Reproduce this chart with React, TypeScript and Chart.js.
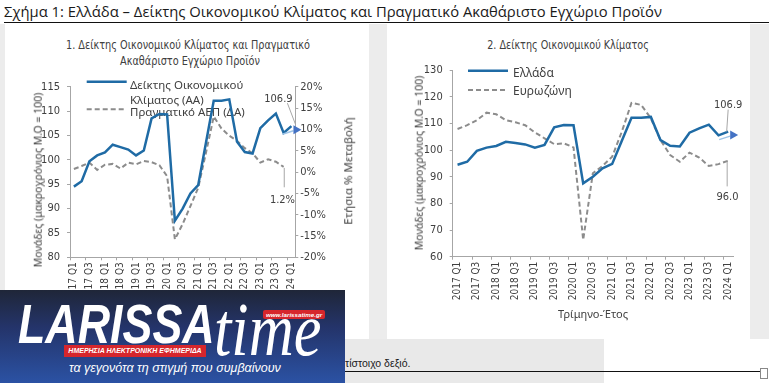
import React, { useEffect, useRef } from "react";
import { Chart, registerables } from "chart.js";

Chart.register(...registerables);

// ---------- DATA ----------
const quarters = [
  "2017 Q1", "2017 Q2", "2017 Q3", "2017 Q4",
  "2018 Q1", "2018 Q2", "2018 Q3", "2018 Q4",
  "2019 Q1", "2019 Q2", "2019 Q3", "2019 Q4",
  "2020 Q1", "2020 Q2", "2020 Q3", "2020 Q4",
  "2021 Q1", "2021 Q2", "2021 Q3", "2021 Q4",
  "2022 Q1", "2022 Q2", "2022 Q3", "2022 Q4",
  "2023 Q1", "2023 Q2", "2023 Q3", "2023 Q4",
  "2024 Q1",
];

// Economic sentiment indicator, Greece (long-term average = 100)
const greeceESI = [
  94.5, 95.6, 99.7, 100.9, 101.5, 103.1, 102.6, 102.1, 100.9, 101.9,
  108.5, 109.4, 109.3, 87.5, 90.0, 93.1, 94.8, 103.5, 112.1, 112.1,
  112.4, 103.7, 101.6, 101.3, 106.5, 108.1, 109.5, 105.5, 106.9,
];

// Economic sentiment indicator, euro area
const euroESI = [
  107.9, 109.3, 111.2, 114.0, 113.4, 111.2, 110.4, 109.3, 106.6, 104.4,
  102.2, 102.5, 101.0, 66.3, 91.3, 94.0, 97.5, 106.9, 117.7, 116.9,
  111.9, 103.7, 98.1, 95.6, 99.0, 97.2, 94.0, 94.7, 96.0,
];

// Real GDP, annual % change (no value yet for 2024 Q1)
const gdpGrowth: (number | null)[] = [
  0.7, 1.4, 2.2, 0.5, 1.7, 1.9, 0.8, 2.2, 1.8, 2.6,
  2.3, 1.6, -1.0, -15.8, -12.2, -8.0, -3.7, 4.5, 13.0, 10.2,
  8.5, 7.3, 5.6, 4.4, 2.2, 3.0, 2.4, 1.2, null,
];

const leftTicksY = { min: 80, max: 115, step: 5 };
const rightTicksPct = { min: -20, max: 20, step: 5 };
const chart2TicksY = { min: 60, max: 130, step: 10 };

// ---------- STYLE ----------
const NARROW = "'Liberation Sans Narrow', 'DejaVu Sans Condensed', 'Arial Narrow', sans-serif";
const SANS = "'Noto Sans', 'DejaVu Sans', sans-serif";
const BLUE = "#1f6ba5";
const GRAY = "#8c8c8c";
const AXIS = "#a6a6a6";
const TICK = "#404040";
const TEXT = "#404040";

function lastIndex(arr: (number | null)[]) {
  for (let i = arr.length - 1; i >= 0; i--) if (arr[i] !== null && arr[i] !== undefined) return i;
  return -1;
}

type LegendItem = { kind: "solid" | "dashed"; x1: number; x2: number; y: number; size: number; lines: { text: string; x: number; base: number }[] };
type EndLabel = { ds: number; text: string; dx: number; dy: number; l1: [number, number]; l2: [number, number] };

function overlayPlugin(legend: LegendItem[], labels: EndLabel[], arrowDs: number) {
  return {
    id: "overlay",
    beforeDatasetsDraw(chart: any) {
      const ctx = chart.ctx as CanvasRenderingContext2D;
      ctx.save();
      legend.forEach((it) => {
        ctx.beginPath();
        ctx.strokeStyle = it.kind === "solid" ? BLUE : GRAY;
        ctx.lineWidth = it.kind === "solid" ? 2.5 : 2;
        ctx.setLineDash(it.kind === "solid" ? [] : [5, 3]);
        ctx.moveTo(it.x1, it.y);
        ctx.lineTo(it.x2, it.y);
        ctx.stroke();
        ctx.setLineDash([]);
        ctx.fillStyle = TEXT;
        ctx.font = `${it.size}px ${SANS}`;
        ctx.textAlign = "left";
        ctx.textBaseline = "alphabetic";
        it.lines.forEach((l) => ctx.fillText(l.text, l.x, l.base));
      });
      ctx.restore();
    },
    afterDatasetsDraw(chart: any) {
      const ctx = chart.ctx as CanvasRenderingContext2D;
      ctx.save();
      // arrow head at the end of the sentiment line
      const meta = chart.getDatasetMeta(arrowDs);
      const data = chart.data.datasets[arrowDs].data as (number | null)[];
      const ai = lastIndex(data);
      if (ai >= 0) {
        const p = meta.data[ai];
        const px = p.x, py = p.y;
        ctx.beginPath();
        ctx.strokeStyle = "#9dc3e6";
        ctx.lineWidth = 1.5;
        ctx.moveTo(px - 9, py + 8);
        ctx.lineTo(px + 2, py + 4.5);
        ctx.stroke();
        ctx.beginPath();
        ctx.fillStyle = "#4472c4";
        ctx.moveTo(px + 2, py - 1);
        ctx.lineTo(px + 10, py + 3.5);
        ctx.lineTo(px + 2, py + 8);
        ctx.closePath();
        ctx.fill();
      }
      labels.forEach((lb) => {
        const d = chart.data.datasets[lb.ds].data as (number | null)[];
        const i = lastIndex(d);
        if (i < 0) return;
        const p = chart.getDatasetMeta(lb.ds).data[i];
        const px = p.x, py = p.y;
        ctx.beginPath();
        ctx.strokeStyle = AXIS;
        ctx.lineWidth = 1;
        ctx.moveTo(px + lb.l1[0], py + lb.l1[1]);
        ctx.lineTo(px + lb.l2[0], py + lb.l2[1]);
        ctx.stroke();
        ctx.fillStyle = TEXT;
        ctx.font = `11px ${NARROW}`;
        ctx.textAlign = "center";
        ctx.textBaseline = "alphabetic";
        ctx.fillText(lb.text, px + lb.dx, py + lb.dy);
      });
      ctx.restore();
    },
  };
}

function xAxis(height: number) {
  return {
    type: "category",
    offset: true,
    grid: {
      offset: true,
      drawOnChartArea: false,
      drawTicks: true,
      tickLength: 3,
      color: (c: any) => (typeof c.index === "number" && c.index % 2 === 0 ? AXIS : "rgba(0,0,0,0)"),
    },
    border: { display: true, color: AXIS, width: 1 },
    ticks: {
      autoSkip: false,
      maxRotation: 90,
      minRotation: 90,
      padding: 2,
      color: TICK,
      font: { family: NARROW, size: 10 },
      callback: (_v: any, i: number) => (i % 2 === 0 ? quarters[i] : ""),
    },
    afterFit: (s: any) => {
      s.height = height;
    },
  };
}

function yAxis(position: "left" | "right", r: { min: number; max: number; step: number }, width: number, pad: number, suffix = "") {
  return {
    type: "linear",
    position,
    min: r.min,
    max: r.max,
    grid: { drawOnChartArea: false, drawTicks: true, tickLength: 3, color: AXIS },
    border: { display: true, color: AXIS, width: 1 },
    ticks: {
      stepSize: r.step,
      padding: pad,
      color: TICK,
      font: { family: NARROW, size: 11 },
      callback: (v: any) => `${v}${suffix}`,
    },
    afterFit: (s: any) => {
      s.width = width;
    },
  };
}

function ChartCanvas({ make, left, top, width, height }: { make: () => any; left: number; top: number; width: number; height: number }) {
  const ref = useRef<HTMLCanvasElement>(null);
  useEffect(() => {
    const chart = new Chart(ref.current as HTMLCanvasElement, make());
    return () => chart.destroy();
  }, []);
  return (
    <canvas
      ref={ref}
      width={width}
      height={height}
      style={{ position: "absolute", left, top, width, height, display: "block" }}
    />
  );
}

function makeLeft() {
  const gi = lastIndex(greeceESI);
  const pi = lastIndex(gdpGrowth);
  return {
    type: "line",
    data: {
      labels: quarters,
      datasets: [
        { label: "Δείκτης Οικονομικού Κλίματος (ΑΑ)", data: greeceESI, yAxisID: "y", borderColor: BLUE, borderWidth: 2.5, pointRadius: 0, tension: 0, order: 0 },
        { label: "Πραγματικό ΑΕΠ (ΔΑ)", data: gdpGrowth, yAxisID: "y1", borderColor: GRAY, borderWidth: 2, borderDash: [5, 3], pointRadius: 0, tension: 0, order: 1 },
      ],
    },
    options: {
      responsive: false,
      animation: false,
      layout: { padding: { left: 0, right: 20, top: 62.7, bottom: 0 } },
      plugins: { legend: { display: false }, tooltip: { enabled: false }, title: { display: false } },
      scales: {
        x: xAxis(81.7),
        y: yAxis("left", leftTicksY, 65, 7),
        y1: yAxis("right", rightTicksPct, 53.7, 2, "%"),
      },
    },
    plugins: [
      overlayPlugin(
        [
          { kind: "solid", x1: 81.7, x2: 121.7, y: 57.7, size: 11.5, lines: [{ text: "Δείκτης Οικονομικού", x: 125, base: 65.3 }, { text: "Κλίματος (ΑΑ)", x: 125, base: 80 }] },
          { kind: "dashed", x1: 81.7, x2: 121.7, y: 85.3, size: 11.5, lines: [{ text: "Πραγματικό ΑΕΠ (ΔΑ)", x: 125, base: 92 }] },
        ],
        [
          { ds: 0, text: greeceESI[gi].toFixed(1), dx: -13, dy: -24.5, l1: [-4, -23], l2: [4, -2] },
          { ds: 1, text: `${(gdpGrowth[pi] as number).toFixed(1)}%`, dx: -1.2, dy: 36, l1: [0.6, 1], l2: [0.6, 20.4] },
        ],
        0
      ),
    ],
  };
}

function makeRight() {
  const gi = lastIndex(greeceESI);
  const ei = lastIndex(euroESI);
  return {
    type: "line",
    data: {
      labels: quarters,
      datasets: [
        { label: "Ελλάδα", data: greeceESI, borderColor: BLUE, borderWidth: 2.5, pointRadius: 0, tension: 0, order: 0 },
        { label: "Ευρωζώνη", data: euroESI, borderColor: GRAY, borderWidth: 2, borderDash: [5, 3], pointRadius: 0, tension: 0, order: 1 },
      ],
    },
    options: {
      responsive: false,
      animation: false,
      layout: { padding: { left: 0, right: 17, top: 46, bottom: 0 } },
      plugins: { legend: { display: false }, tooltip: { enabled: false }, title: { display: false } },
      scales: {
        x: xAxis(82.3),
        y: yAxis("left", chart2TicksY, 65.7, 7),
      },
    },
    plugins: [
      overlayPlugin(
        [
          { kind: "solid", x1: 81, x2: 121, y: 46.7, size: 12, lines: [{ text: "Ελλάδα", x: 126, base: 52.7 }] },
          { kind: "dashed", x1: 81, x2: 121, y: 66, size: 12, lines: [{ text: "Ευρωζώνη", x: 126, base: 71 }] },
        ],
        [
          { ds: 0, text: greeceESI[gi].toFixed(1), dx: 0, dy: -23.7, l1: [0, -22], l2: [-1.5, 0] },
          { ds: 1, text: euroESI[ei].toFixed(1), dx: -0.7, dy: 39, l1: [-1, 0.7], l2: [-1, 25.7] },
        ],
        0
      ),
    ],
  };
}

function VText({ text, cx, cy, size, family = SANS, color = TEXT }: { text: string; cx: number; cy: number; size: number; family?: string; color?: string }) {
  return (
    <div
      style={{
        position: "absolute",
        left: cx,
        top: cy,
        transform: "translate(-50%, -50%) rotate(-90deg)",
        whiteSpace: "nowrap",
        fontFamily: family,
        fontSize: size,
        lineHeight: `${size + 2}px`,
        color,
      }}
    >
      {text}
    </div>
  );
}

function CText({ text, cx, cy, size, family = NARROW, color = TEXT, sx = 1 }: { text: string; cx: number; cy: number; size: number; family?: string; color?: string; sx?: number }) {
  return (
    <div
      style={{
        position: "absolute",
        left: cx,
        top: cy,
        transform: `translate(-50%, -50%) scaleX(${sx})`,
        whiteSpace: "nowrap",
        fontFamily: family,
        fontSize: size,
        lineHeight: `${size + 2}px`,
        color,
      }}
    >
      {text}
    </div>
  );
}

function Logo() {
  const white = "#ffffff";
  return (
    <div
      style={{
        position: "absolute",
        left: 0,
        top: 290,
        width: 345,
        height: 93,
        overflow: "hidden",
        zIndex: 10,
        background: "linear-gradient(180deg, #1f2638 0%, #24346a 40%, #2b52a4 100%)",
      }}
    >
      <div style={{ position: "absolute", left: 18, top: 6, color: white, fontFamily: "'Liberation Sans', Arial, sans-serif", fontWeight: 700, fontStyle: "italic", fontSize: 56, lineHeight: "56px", transform: "scaleX(0.8)", transformOrigin: "left top", whiteSpace: "nowrap" }}>
        LARISSA
      </div>
      <div style={{ position: "absolute", left: 214, top: 1, color: white, fontFamily: "'Liberation Serif', 'Times New Roman', serif", fontStyle: "italic", fontSize: 76, lineHeight: "76px", transform: "scaleX(0.82)", transformOrigin: "left top", whiteSpace: "nowrap" }}>
        time
      </div>
      <div style={{ position: "absolute", left: 263, top: 20, width: 62, height: 9, background: "#d6262c", borderRadius: 2, color: white, fontFamily: "'Liberation Sans', Arial, sans-serif", fontWeight: 700, fontStyle: "italic", fontSize: 6.2, lineHeight: "9px", textAlign: "center", whiteSpace: "nowrap" }}>
        www.larissatime.gr
      </div>
      <div style={{ position: "absolute", left: 64, top: 55, width: 142, height: 12, background: "#d6262c", color: white, fontFamily: "'Liberation Sans', Arial, sans-serif", fontWeight: 700, fontStyle: "italic", fontSize: 7, lineHeight: "12px", textAlign: "center", whiteSpace: "nowrap" }}>
        ΗΜΕΡΗΣΙΑ ΗΛΕΚΤΡΟΝΙΚΗ ΕΦΗΜΕΡΙΔΑ
      </div>
      <div style={{ position: "absolute", left: 69, top: 70, color: white, fontFamily: "'Liberation Sans', Arial, sans-serif", fontStyle: "italic", fontSize: 12.5, lineHeight: "16px", whiteSpace: "nowrap" }}>
        τα γεγονότα τη στιγμή που συμβαίνουν
      </div>
    </div>
  );
}

export default function App() {
  return (
    <div style={{ position: "absolute", left: 0, top: 0, width: 769, height: 383, overflow: "hidden", background: "#ffffff" }}>
      {/* main title */}
      <div style={{ position: "absolute", left: 4, top: 1, fontFamily: "'Open Sans', 'Noto Sans', sans-serif", fontSize: 14.8, lineHeight: "20px", color: "#1a1a1a", whiteSpace: "nowrap" }}>
        Σχήμα 1: Ελλάδα – Δείκτης Οικονομικού Κλίματος και Πραγματικό Ακαθάριστο Εγχώριο Προϊόν
      </div>
      <div style={{ position: "absolute", left: 4, top: 22, width: 765, height: 1, background: "#111" }} />

      {/* grey backdrop and white panels */}
      <div style={{ position: "absolute", left: 0, top: 24, width: 769, height: 315, background: "#ececec" }} />
      <div style={{ position: "absolute", left: 5, top: 24, width: 364, height: 315, background: "#ffffff" }} />
      <div style={{ position: "absolute", left: 387, top: 24, width: 363, height: 315, background: "#ffffff" }} />
      <div style={{ position: "absolute", left: 0, top: 339, width: 604, height: 44, background: "#e9e9e9" }} />

      {/* chart 1 */}
      <CText text="1. Δείκτης Οικονομικού Κλίματος και Πραγματικό" cx={188} cy={45} size={12} sx={0.9} />
      <CText text="Ακαθάριστο Εγχώριο Προϊόν" cx={190} cy={60.7} size={12} sx={0.9} />
      <ChartCanvas make={makeLeft} left={5} top={24} width={364} height={315} />
      <VText text="Μονάδες (μακροχρόνιος Μ.Ο = 100)" cx={38.3} cy={180} size={10.5} />
      <VText text="Ετήσια % Μεταβολή" cx={348} cy={171} size={11.5} />

      {/* chart 2 */}
      <CText text="2. Δείκτης Οικονομικού Κλίματος" cx={568} cy={45} size={12} sx={0.89} />
      <ChartCanvas make={makeRight} left={387} top={24} width={363} height={315} />
      <VText text="Μονάδες (μακροχρόνιος Μ.Ο = 100)" cx={419} cy={162.5} size={10.5} />
      <CText text="Τρίμηνο-Έτος" cx={593} cy={313} size={11} family={SANS} />

      {/* bottom remnants */}
      <div style={{ position: "absolute", left: 345, top: 356, fontFamily: "'Liberation Sans', Arial, sans-serif", fontSize: 10.5, lineHeight: "14px", color: "#1a1a1a", whiteSpace: "nowrap" }}>
        τίστοιχο δεξιό.
      </div>
      <div style={{ position: "absolute", left: 345, top: 371, width: 417, height: 1, background: "#111" }} />
      <div style={{ position: "absolute", left: 760, top: 368, width: 6, height: 9, border: "1px solid #888", background: "#fff" }} />

      <Logo />
    </div>
  );
}
